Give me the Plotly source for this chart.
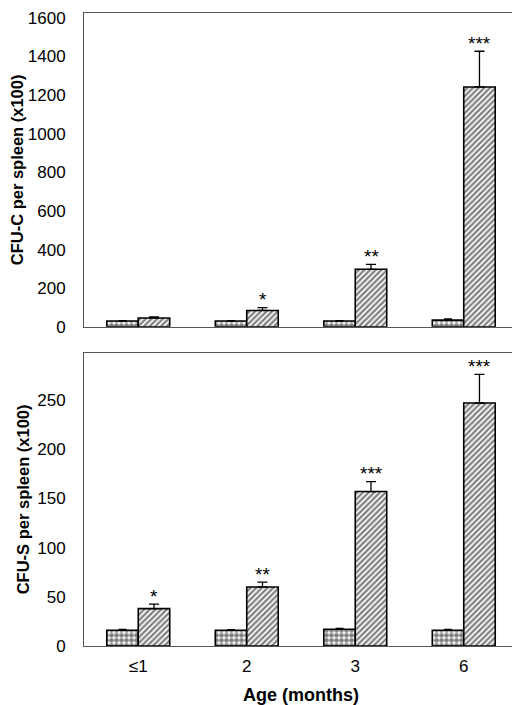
import plotly.graph_objects as go
from plotly.subplots import make_subplots

ages = ["≤1", "2", "3", "6"]

# CFU-C per spleen (x100)
cfuc_ctrl = [30, 30, 30, 35]
cfuc_ctrl_err = [2, 2, 2, 6]
cfuc_test = [46, 85, 298, 1242]
cfuc_test_err = [5, 14, 25, 185]
cfuc_stars = ["", "*", "**", "***"]

# CFU-S per spleen (x100)
cfus_ctrl = [16, 16, 17, 16]
cfus_ctrl_err = [1, 0.5, 1, 1]
cfus_test = [38, 60, 157, 247]
cfus_test_err = [4.5, 5, 10, 29]
cfus_stars = ["*", "**", "***", "***"]

FONT = "Liberation Sans, Arial, sans-serif"

fig = make_subplots(rows=2, cols=1, vertical_spacing=0.041,
                    row_heights=[0.517, 0.483])


def add_bars(row, ctrl, ctrl_err, test, test_err, stars):
    fig.add_trace(go.Bar(
        x=ages, y=ctrl,
        error_y=dict(type="data", array=ctrl_err, symmetric=False,
                     arrayminus=[0] * len(ctrl), color="black",
                     thickness=1.3, width=4),
        marker=dict(color="white", line=dict(color="black", width=1.6),
                    pattern=dict(shape=".", fgcolor="black", bgcolor="white",
                                 size=5, solidity=0.7)),
        showlegend=False), row=row, col=1)
    fig.add_trace(go.Bar(
        x=ages, y=test,
        error_y=dict(type="data", array=test_err, symmetric=False,
                     arrayminus=[0] * len(test), color="black",
                     thickness=1.3, width=5),
        marker=dict(color="white", line=dict(color="black", width=1.6),
                    pattern=dict(shape="/", fgcolor="black", bgcolor="white",
                                 size=4, solidity=0.55)),
        showlegend=False), row=row, col=1)
    xref = "x" if row == 1 else "x2"
    yref = "y" if row == 1 else "y2"
    # category index used for x so "2", "3", "6" are not read as numbers
    for i, (v, e, s) in enumerate(zip(test, test_err, stars)):
        if s:
            fig.add_annotation(x=i, y=v + e, xref=xref, yref=yref, text=s,
                               showarrow=False, xshift=16, yshift=8,
                               font=dict(family=FONT, size=19, color="black"))


add_bars(1, cfuc_ctrl, cfuc_ctrl_err, cfuc_test, cfuc_test_err, cfuc_stars)
add_bars(2, cfus_ctrl, cfus_ctrl_err, cfus_test, cfus_test_err, cfus_stars)

axis_style = dict(showline=True, mirror=True, linecolor="#555", linewidth=1,
                  showgrid=False, zeroline=False, ticks="", automargin=False,
                  tickfont=dict(family=FONT, size=17, color="black"))

fig.update_xaxes(type="category", range=[-0.5, 3.5], ticklabelstandoff=5,
                 **axis_style)
fig.update_yaxes(ticklabelstandoff=14, ticklabeloverflow="allow", **axis_style)
fig.update_xaxes(title=dict(text="<b>Age (months)</b>", standoff=14,
                            font=dict(family=FONT, size=18, color="black")),
                 row=2, col=1)
fig.update_xaxes(showticklabels=False, row=1, col=1)
fig.update_yaxes(range=[0, 1625], tickvals=list(range(0, 1601, 200)),
                 title=dict(text="<b>CFU-C per spleen (x100)</b>", standoff=1,
                            font=dict(family=FONT, size=16.5, color="black")),
                 row=1, col=1)
fig.update_yaxes(range=[0, 298], tickvals=list(range(0, 251, 50)),
                 title=dict(text="<b>CFU-S per spleen (x100)</b>", standoff=3,
                            font=dict(family=FONT, size=16.5, color="black")),
                 row=2, col=1)

# page body has an 8px margin, so the figure is 8px smaller than the window
fig.update_layout(
    width=512, height=697,
    margin=dict(l=76, r=2, t=5, b=59),
    barmode="group", bargap=0.42, bargroupgap=0,
    plot_bgcolor="white", paper_bgcolor="white",
    font=dict(family=FONT, color="black"),
)

fig.write_html("out.html")
